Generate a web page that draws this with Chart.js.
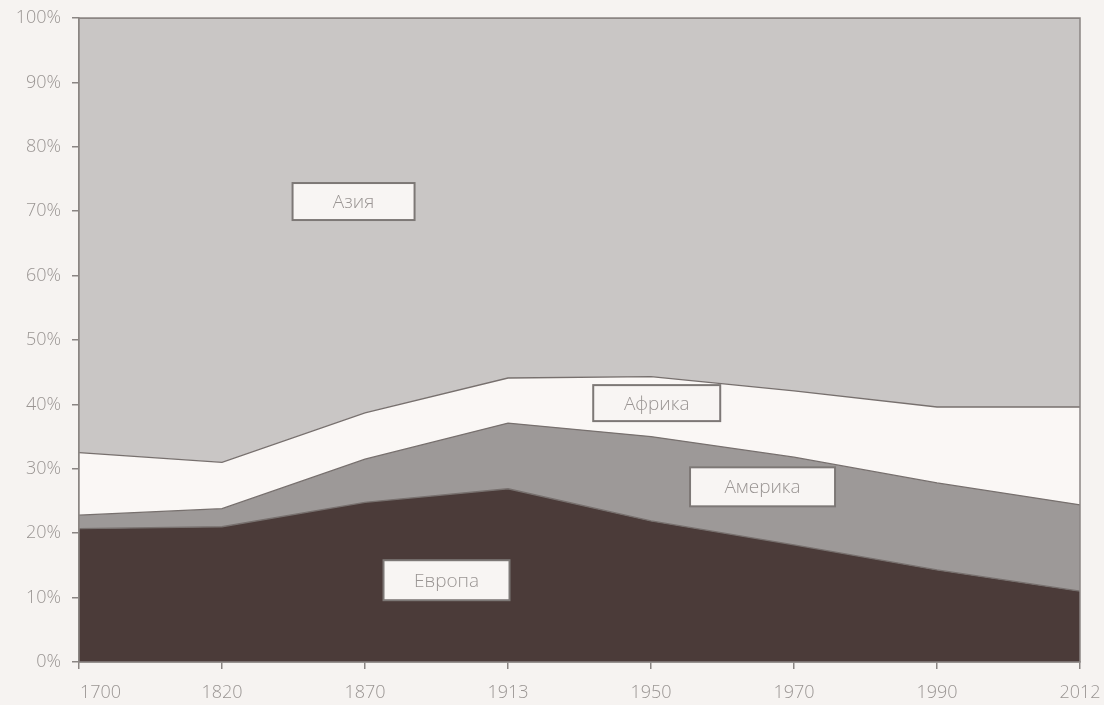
<!DOCTYPE html>
<html><head><meta charset="utf-8">
<script src="https://cdn.jsdelivr.net/npm/chart.js@4/dist/chart.umd.min.js"></script>
<style>
html,body{margin:0;padding:0;background:#f6f3f1;}
#wrap{width:1104px;height:705px;position:relative;}
</style></head>
<body><div id="wrap"><canvas id="c" width="1104" height="705"></canvas></div>
<script>
const years = ['1700','1820','1870','1913','1950','1970','1990','2012'];
const europe  = [20.7, 21.0, 24.8, 26.9, 21.9, 18.2, 14.3, 11.0];
const america = [2.1, 2.8, 6.7, 10.2, 13.1, 13.6, 13.5, 13.4];
const africa  = [9.7, 7.2, 7.2, 7.0, 9.3, 10.3, 11.8, 15.2];
const asia    = [67.5, 69.0, 61.3, 55.9, 55.7, 57.9, 60.4, 60.4];
const yTicks  = [0,10,20,30,40,50,60,70,80,90,100];
const regionLabels = ['Европа','Америка','Африка','Азия'];
// label anchor: [category index (fractional), y percent]
const labelAnchors = [[2.57, 12.7],[4.78, 27.2],[4.04, 40.2],[1.92, 71.5]];
const labelSizes = [[126,40],[145,39],[127,36],[122,37]];

const lineCol = '#77706e';
const tickFont = {family:'"Open Sans", sans-serif', size:18, weight:300};
const boxes = {
  id:'boxes',
  afterDatasetsDraw(chart){
    const {ctx, chartArea:a, scales:{x,y}} = chart;
    ctx.save();
    ctx.strokeStyle = '#8a8583'; ctx.lineWidth = 1.5;
    ctx.strokeRect(a.left, a.top, a.right-a.left, a.bottom-a.top);
    const step = x.getPixelForValue(1)-x.getPixelForValue(0);
    labelAnchors.forEach((p,i)=>{
      const cx = x.getPixelForValue(0) + p[0]*step;
      const cy = y.getPixelForValue(p[1]);
      const [w,h] = labelSizes[i];
      ctx.fillStyle = '#f8f5f3';
      ctx.fillRect(cx-w/2, cy-h/2, w, h);
      ctx.strokeStyle = '#7d7876'; ctx.lineWidth = 2;
      ctx.strokeRect(cx-w/2, cy-h/2, w, h);
      ctx.fillStyle = '#9a9593';
      ctx.font = '300 19px "Open Sans", sans-serif';
      ctx.textAlign='center'; ctx.textBaseline='middle';
      ctx.fillText(regionLabels[i], cx, cy+1);
    });
    // first category label sits just right of the axis
    ctx.fillStyle = '#9a9593';
    ctx.font = '300 18px "Open Sans", sans-serif';
    ctx.textAlign='left'; ctx.textBaseline='middle';
    ctx.fillText(years[0], a.left+1, a.bottom+31);
    ctx.restore();
  }
};

const common = {pointRadius:0, borderWidth:1.3, borderColor:lineCol, tension:0};
new Chart(document.getElementById('c'), {
  type:'line',
  data:{labels:years, datasets:[
    {...common, label:'Европа', data:europe, backgroundColor:'#4b3b39', fill:'origin'},
    {...common, label:'Америка', data:america, backgroundColor:'#9d9998', fill:'-1'},
    {...common, label:'Африка', data:africa, backgroundColor:'#faf7f5', fill:'-1'},
    {...common, label:'Азия', data:asia, backgroundColor:'#c9c6c5', fill:'-1'}
  ]},
  options:{
    responsive:false, animation:false,
    layout:{padding:{top:18,right:24,left:0,bottom:0}},
    plugins:{legend:{display:false}, tooltip:{enabled:false}},
    scales:{
      x:{
        offset:false,
        grid:{display:true, drawOnChartArea:false, tickLength:7, color:'#8a8583', lineWidth:1.5},
        border:{display:true,color:'#8a8583',width:1.5},
        ticks:{color:'#9a9593', font:tickFont, padding:13, maxRotation:0, autoSkip:false,
               callback:(v,i)=> i===0 ? '' : years[i]},
        afterFit(s){ s.height = 43; s.paddingRight = 0; s.paddingLeft = 0; }
      },
      y:{
        stacked:true, min:0, max:100,
        afterBuildTicks(s){ s.ticks = yTicks.map(v=>({value:v})); },
        grid:{display:true, drawOnChartArea:false, tickLength:7, color:'#8a8583', lineWidth:1.5},
        border:{display:true,color:'#8a8583',width:1.5},
        ticks:{color:'#9a9593', font:tickFont, padding:11, callback:v=>v+'%'},
        afterFit(s){ s.width = 79; s.paddingTop = 0; s.paddingBottom = 0; }
      }
    }
  },
  plugins:[boxes]
});
</script></body></html>
